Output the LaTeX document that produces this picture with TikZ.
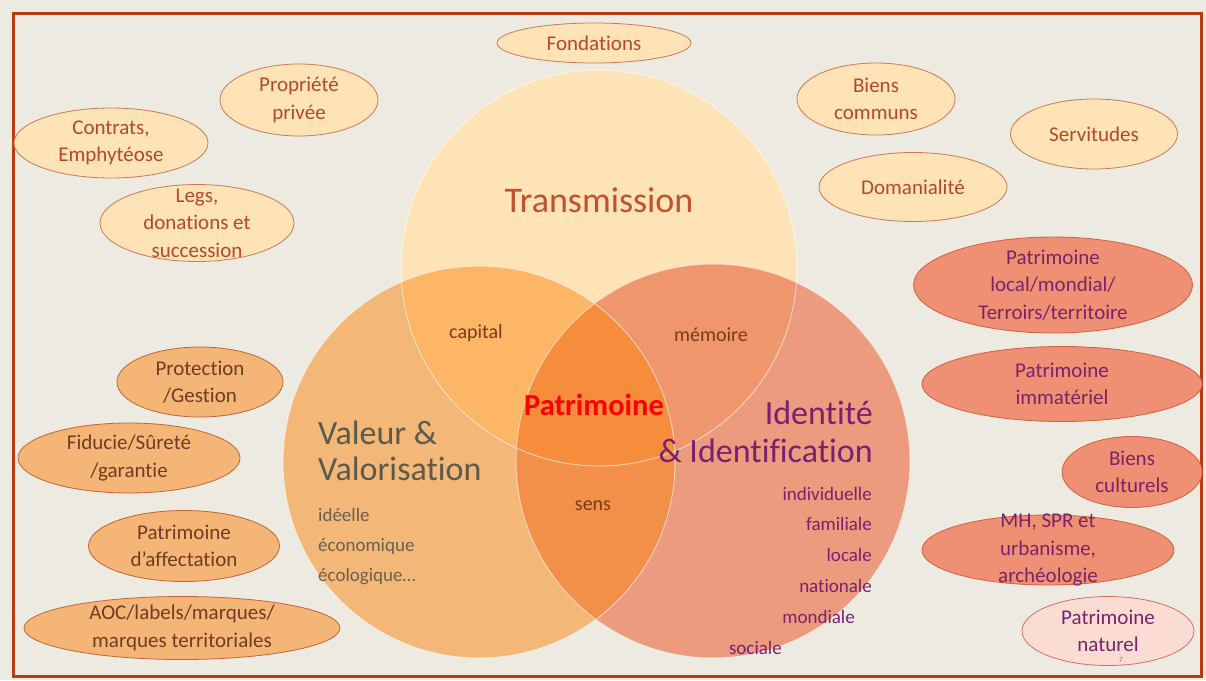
\documentclass[tikz,border=0pt]{standalone}
\usepackage{fontspec}
\setmainfont{Carlito}[Ligatures={NoCommon,NoContextual}]
\usetikzlibrary{shapes.geometric}
\definecolor{bg}{HTML}{EDEAE1}
\definecolor{frame}{HTML}{BE3810}
\definecolor{Tcol}{HTML}{FDE3B6}
\definecolor{Vcol}{HTML}{F3B878}
\definecolor{Icol}{HTML}{EC9B7F}
\definecolor{TVcol}{HTML}{FDB566}
\definecolor{TIcol}{HTML}{F0966C}
\definecolor{VIcol}{HTML}{F28F48}
\definecolor{TVIcol}{HTML}{F58D3C}
\definecolor{peachfill}{HTML}{FDE3B5}
\definecolor{peachline}{HTML}{C87A55}
\definecolor{peachtext}{HTML}{B4482A}
\definecolor{orfill}{HTML}{F4B576}
\definecolor{orline}{HTML}{C0643A}
\definecolor{ortext}{HTML}{6E3D22}
\definecolor{safill}{HTML}{EF9074}
\definecolor{saline}{HTML}{D0603E}
\definecolor{satext}{HTML}{7A2468}
\definecolor{pkfill}{HTML}{FADCD3}
\definecolor{pkline}{HTML}{D07060}
\definecolor{transtext}{HTML}{C0502E}
\definecolor{valtext}{HTML}{5C5A4C}
\definecolor{valsub}{HTML}{6B6050}
\definecolor{idtext}{HTML}{7A2070}
\definecolor{lenstext}{HTML}{7A3A1A}
\newcommand\myfs[2]{\fontsize{#1}{#2}\selectfont}
\begin{document}
\begin{tikzpicture}[x=1pt,y=-1pt,
  peach/.style={ellipse, draw=peachline, fill=peachfill, line width=0.8pt, inner sep=0pt},
  oran/.style={ellipse, draw=orline, fill=orfill, line width=0.8pt, inner sep=0pt},
  salm/.style={ellipse, draw=saline, fill=safill, line width=0.8pt, inner sep=0pt},
  pink/.style={ellipse, draw=pkline, fill=pkfill, line width=0.8pt, inner sep=0pt},
  ptxt/.style={align=center, font=\myfs{21}{27.5}, text=peachtext, inner sep=0pt},
  otxt/.style={align=center, font=\myfs{21}{27.5}, text=ortext, inner sep=0pt},
  stxt/.style={align=center, font=\myfs{21}{27.5}, text=satext, inner sep=0pt},
  lens/.style={font=\myfs{20}{24}, text=lenstext, inner sep=0pt},
  vsub/.style={font=\myfs{19}{23}, text=valsub, anchor=west, inner sep=0pt},
  isub/.style={font=\myfs{19}{23}, text=idtext, anchor=east, inner sep=0pt}]
\useasboundingbox (0,0) rectangle (1206,680);
\fill[bg] (0,0) rectangle (1206,680);
\draw[frame, line width=3.5pt] (13.5,13.5) rectangle (1201.5,676.5);

% circles
\coordinate (cT) at (599,268);
\coordinate (cV) at (479,462);
\coordinate (cI) at (713,461);
\fill[Tcol] (cT) circle (198);
\fill[Vcol] (cV) circle (196);
\fill[Icol] (cI) circle (197);
\begin{scope}
  \clip (cT) circle (198);
  \fill[TVcol] (cV) circle (196);
  \fill[TIcol] (cI) circle (197);
\end{scope}
\begin{scope}
  \clip (cV) circle (196);
  \fill[VIcol] (cI) circle (197);
  \clip (cT) circle (198);
  \fill[TVIcol] (cI) circle (197);
\end{scope}
\draw[white, opacity=0.55, line width=1pt] (cT) circle (198) (cV) circle (196) (cI) circle (197);

% circle texts
\node[font=\myfs{36}{40}, text=transtext, inner sep=0pt] (trans) at (599,200) {Transmission};
\node[font=\myfs{34}{36}, text=valtext, align=left, anchor=west, inner sep=0pt] (val) at (318,451) {Valeur \&\\Valorisation};
\node[vsub] (ideelle) at (318,515) {idéelle};
\node[vsub] (eco) at (318,546) {économique};
\node[vsub] (ecol) at (318,577) {écologique…};
\node[font=\myfs{34}{38}, text=idtext, align=right, anchor=east, inner sep=0pt] (ident) at (873,432) {Identité\\\& Identification};
\node[isub] (indiv) at (872,494) {individuelle};
\node[isub] (fam) at (872,524) {familiale};
\node[isub] (loc) at (872,555) {locale};
\node[isub] (nat) at (872,586) {nationale};
\node[isub] (mond) at (855,617) {mondiale};
\node[isub] (soc) at (782,648) {sociale};
\node[lens] (capital) at (476,333) {capital};
\node[lens] (memoire) at (711,335) {mémoire};
\node[lens] (sens) at (593,506) {sens};
\node[font=\myfs{30.5}{32}\bfseries, text=red, inner sep=0pt] (patri) at (594,405) {Patrimoine};

% peach ellipses
\node[peach, minimum width=194, minimum height=40] (fond) at (594,43) {};
\node[ptxt] at (fond) {Fondations};
\node[peach, minimum width=158, minimum height=72] (prop) at (299,100) {};
\node[ptxt] at (prop) {Propriété\\privée};
\node[peach, minimum width=194, minimum height=70] (contr) at (111,143) {};
\node[ptxt] at (contr) {Contrats,\\Emphytéose};
\node[peach, minimum width=194, minimum height=77] (legs) at (197,223) {};
\node[ptxt] at (legs) {Legs,\\donations et\\succession};
\node[peach, minimum width=158, minimum height=72] (biens) at (876,99) {};
\node[ptxt] at (biens) {Biens\\communs};
\node[peach, minimum width=167, minimum height=70] (serv) at (1094,134) {};
\node[ptxt] at (serv) {Servitudes};
\node[peach, minimum width=188, minimum height=69] (doma) at (913,187) {};
\node[ptxt] at (doma) {Domanialité};

% orange ellipses (left)
\node[oran, minimum width=166, minimum height=70] (prot) at (200,382) {};
\node[otxt] at (prot) {Protection\\/Gestion};
\node[oran, minimum width=222, minimum height=70] (fidu) at (129,458) {};
\node[otxt] at (fidu) {Fiducie/Sûreté\\/garantie};
\node[oran, minimum width=191, minimum height=71] (affe) at (184,546) {};
\node[otxt] at (affe) {Patrimoine\\d’affectation};
\node[oran, minimum width=316, minimum height=63] (aoc) at (182,628) {};
\node[otxt] at (aoc) {AOC/labels/marques/\\marques territoriales};

% salmon ellipses (right)
\node[salm, minimum width=279, minimum height=96] (local) at (1053,285) {};
\node[stxt] at (local) {Patrimoine\\local/mondial/\\Terroirs/territoire};
\node[salm, minimum width=280, minimum height=75] (immat) at (1062,384) {};
\node[stxt] at (immat) {Patrimoine\\immatériel};
\node[salm, minimum width=140, minimum height=71] (cult) at (1132,472) {};
\node[stxt] at (cult) {Biens\\culturels};
\node[salm, minimum width=252, minimum height=70] (mh) at (1048,550) {};
\node[stxt] at (mh) {MH, SPR et\\urbanisme,\\archéologie};
\node[pink, minimum width=172, minimum height=69] (natur) at (1108,631) {};
\node[stxt] at (natur) {Patrimoine\\naturel};
\node[font=\myfs{8}{9}, text=gray, inner sep=0pt] (pnum) at (1121,660) {7};
\end{tikzpicture}
\end{document}
